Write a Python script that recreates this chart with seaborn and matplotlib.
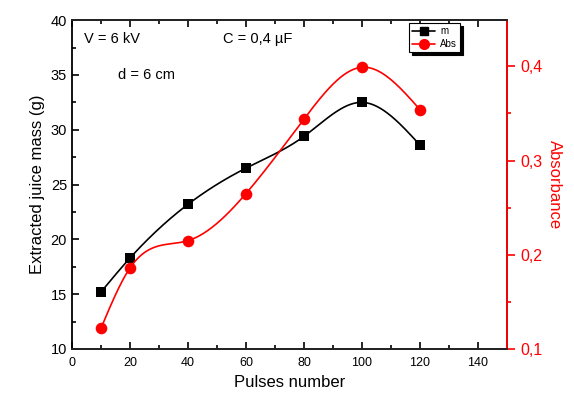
import numpy as np
import pandas as pd
import matplotlib
matplotlib.use("Agg")
import matplotlib.pyplot as plt
import seaborn as sns
from matplotlib.ticker import MultipleLocator, FixedLocator, FuncFormatter
from matplotlib.lines import Line2D

pulses = [10, 20, 40, 60, 80, 100, 120]
mass = [15.2, 18.3, 23.2, 26.5, 29.4, 32.5, 28.6]
absorb = [0.122, 0.186, 0.215, 0.265, 0.344, 0.399, 0.354]

def natural_spline(x, y, n=300):
    x = np.asarray(x, float); y = np.asarray(y, float)
    k = len(x); h = np.diff(x)
    A = np.zeros((k, k)); b = np.zeros(k)
    A[0, 0] = A[-1, -1] = 1
    for i in range(1, k - 1):
        A[i, i - 1] = h[i - 1]; A[i, i] = 2 * (h[i - 1] + h[i]); A[i, i + 1] = h[i]
        b[i] = 3 * ((y[i + 1] - y[i]) / h[i] - (y[i] - y[i - 1]) / h[i - 1])
    c = np.linalg.solve(A, b)
    xs = np.linspace(x[0], x[-1], n)
    ys = np.empty_like(xs)
    for j, xv in enumerate(xs):
        i = min(np.searchsorted(x, xv, side="right") - 1, k - 2)
        bb = (y[i + 1] - y[i]) / h[i] - h[i] * (2 * c[i] + c[i + 1]) / 3
        d = (c[i + 1] - c[i]) / (3 * h[i])
        t = xv - x[i]
        ys[j] = y[i] + bb * t + c[i] * t ** 2 + d * t ** 3
    return xs, ys

sns.set_theme(style="white")
plt.rcParams["font.family"] = ["Liberation Sans", "DejaVu Sans"]
plt.rcParams["axes.linewidth"] = 1.3
plt.rcParams["text.color"] = "black"
plt.rcParams["axes.labelcolor"] = "black"
plt.rcParams["xtick.color"] = "black"
plt.rcParams["ytick.color"] = "black"

fig = plt.figure(figsize=(5.74, 4.03), dpi=100)
ax = fig.add_axes([0.1254, 0.134, 0.7579, 0.816])
ax2 = ax.twinx()

df = pd.DataFrame({"pulses": pulses, "mass": mass, "absorb": absorb})
xs, ym = natural_spline(pulses, mass)
_, ya = natural_spline(pulses, absorb)
sns.lineplot(x=xs, y=ym, ax=ax, color="black", lw=1.2, legend=False)
sns.scatterplot(data=df, x="pulses", y="mass", ax=ax, marker="s", s=60, color="black",
                edgecolor="black", linewidth=0, zorder=5, legend=False)
sns.lineplot(x=xs, y=ya, ax=ax2, color="red", lw=1.2, legend=False)
sns.scatterplot(data=df, x="pulses", y="absorb", ax=ax2, marker="o", s=70, color="red",
                edgecolor="red", linewidth=0, zorder=5, legend=False)

ax.set_xlim(0, 150)
ax.set_ylim(10, 40)
ax2.set_ylim(0.1, 0.449)
ax.xaxis.set_major_locator(MultipleLocator(20))
ax.xaxis.set_minor_locator(MultipleLocator(10))
ax.yaxis.set_major_locator(MultipleLocator(5))
ax.yaxis.set_minor_locator(MultipleLocator(2.5))
ax2.yaxis.set_major_locator(FixedLocator([0.1, 0.2, 0.3, 0.4]))
ax2.yaxis.set_minor_locator(FixedLocator([0.15, 0.25, 0.35]))
ax2.yaxis.set_major_formatter(FuncFormatter(lambda v, p: f"{v:.1f}".replace(".", ",")))

ax.tick_params(axis="x", which="both", direction="in", top=True, bottom=True,
               labelsize=9, colors="black", pad=6, width=1.2)
ax.tick_params(axis="x", which="major", length=5)
ax.tick_params(axis="x", which="minor", length=3)
ax.tick_params(axis="y", which="both", direction="in", left=True, right=False,
               labelsize=10.5, width=1.2, colors="black")
ax.tick_params(axis="y", which="major", length=5)
ax.tick_params(axis="y", which="minor", length=3)
ax2.tick_params(axis="y", which="both", direction="out", right=True, colors="red",
                labelsize=11.5, width=1.2)
ax2.tick_params(axis="y", which="major", length=6)
ax2.tick_params(axis="y", which="minor", length=3)

for s in ["left", "bottom", "top"]:
    ax.spines[s].set_visible(True); ax.spines[s].set_color("black")
ax2.spines["right"].set_color("red")
ax2.spines["left"].set_visible(False)

ax.set_xlabel("Pulses number", fontsize=12, color="black")
ax.set_ylabel("Extracted juice mass (g)", fontsize=12, color="black")
ax2.set_ylabel("Absorbance", fontsize=12, color="red", rotation=270, labelpad=14)

ax.text(4, 37.9, "V = 6 kV", fontsize=10.5, color="black")
ax.text(52, 37.9, "C = 0,4 µF", fontsize=10.5, color="black")
ax.text(16, 34.6, "d = 6 cm", fontsize=10.5, color="black")

handles = [Line2D([], [], color="black", marker="s", markersize=6, lw=1.2),
           Line2D([], [], color="red", marker="o", markersize=7, lw=1.2)]
leg = ax.legend(handles, ["m", "Abs"], loc="upper left", bbox_to_anchor=(0.775, 0.99),
                fontsize=7, frameon=True, fancybox=False,
                shadow={"color": "black", "alpha": 1}, handlelength=2.4,
                borderpad=0.3, labelspacing=0.3, handletextpad=0.5, borderaxespad=0)
leg.get_frame().set_edgecolor("black")
leg.get_frame().set_linewidth(0.8)

fig.savefig("out.png", dpi=100)
